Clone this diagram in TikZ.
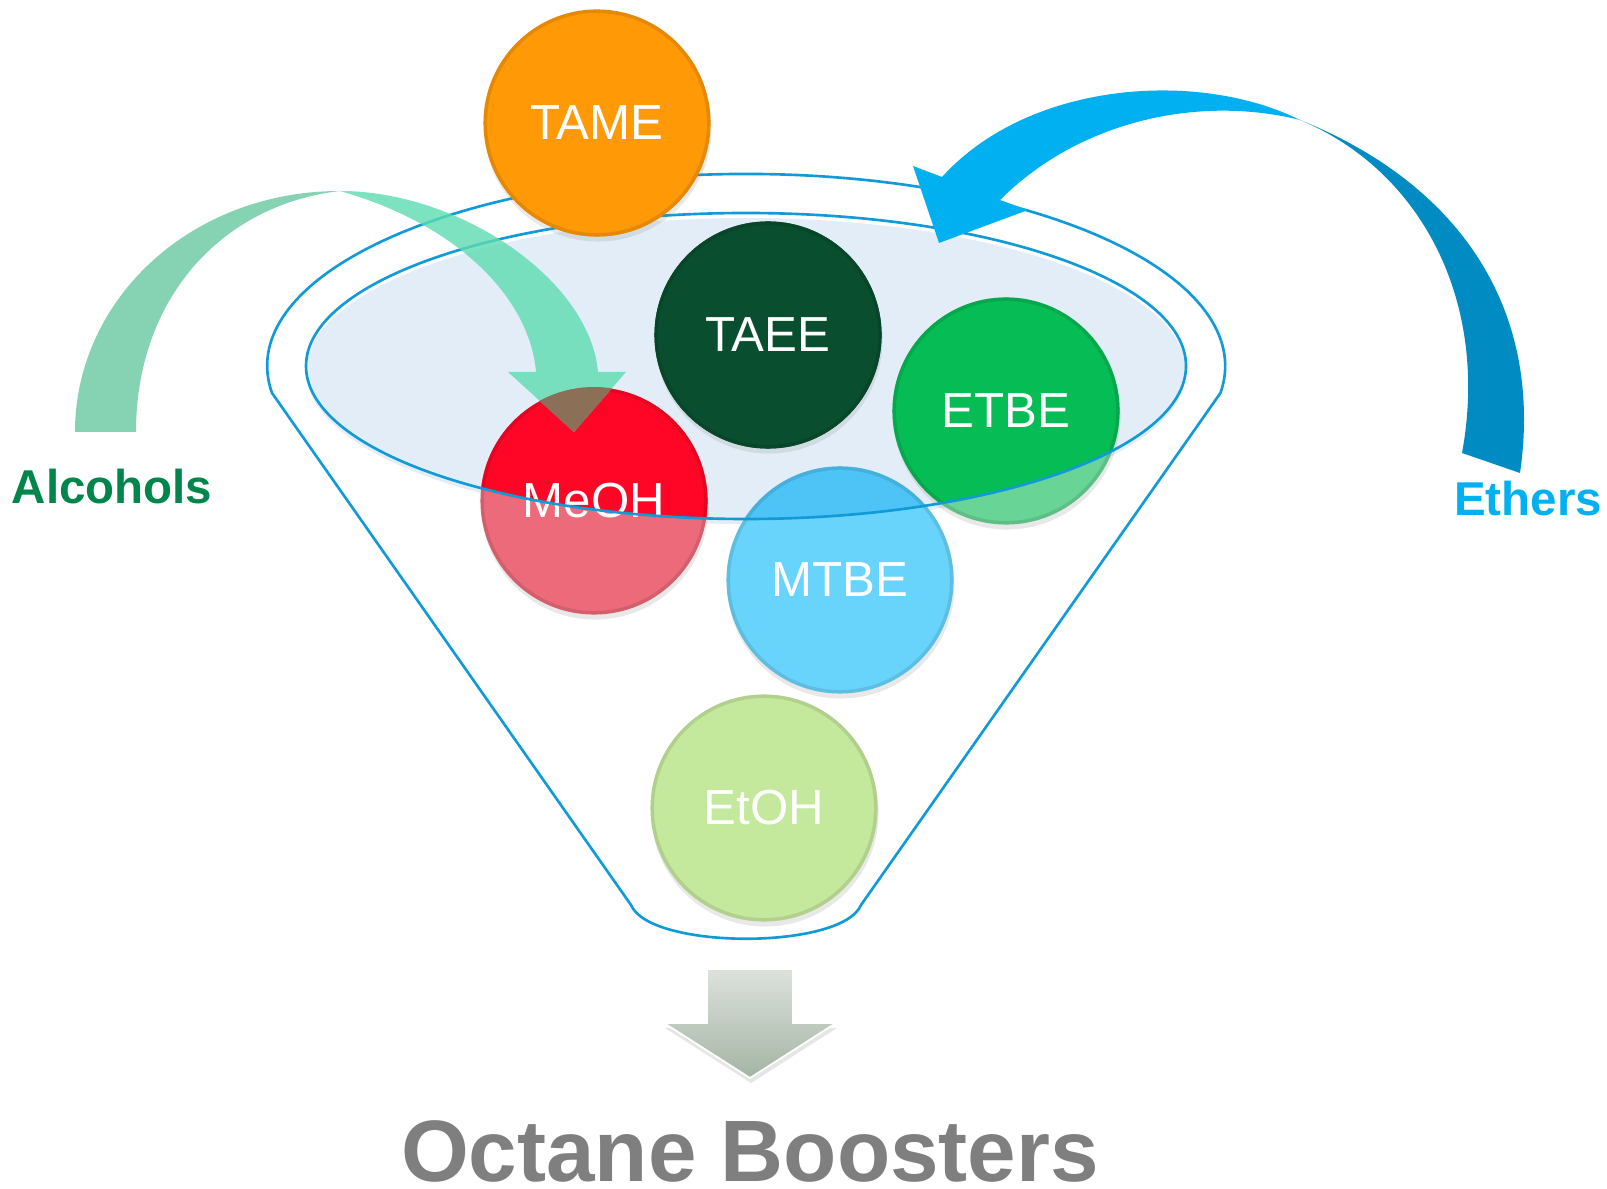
\documentclass[tikz,border=0pt]{standalone}
\usepackage{fontspec}
\setmainfont{Liberation Sans}
\usepackage{tikz}
\usetikzlibrary{shadows}
\definecolor{funnelblue}{RGB}{16,154,215}
\definecolor{rimfill}{RGB}{227,237,247}
\definecolor{tameorange}{RGB}{255,153,5}
\definecolor{taeegreen}{RGB}{9,78,46}
\definecolor{etbein}{RGB}{6,188,85}
\definecolor{etbeout}{RGB}{104,212,150}
\definecolor{meohin}{RGB}{255,6,38}
\definecolor{meohout}{RGB}{236,106,122}
\definecolor{mtbein}{RGB}{78,196,246}
\definecolor{mtbeout}{RGB}{104,212,251}
\definecolor{etohgreen}{RGB}{196,232,156}
\definecolor{alcback}{RGB}{134,211,180}
\definecolor{alcfront}{RGB}{92,219,176}
\definecolor{alcover}{RGB}{139,112,87}
\definecolor{ethback}{RGB}{0,140,194}
\definecolor{ethfront}{RGB}{0,176,240}
\definecolor{alcgreen}{RGB}{0,134,74}
\definecolor{boostgray}{RGB}{127,127,127}
\newcommand{\bubblefont}{\fontsize{14}{16}\selectfont}
\newcommand{\tagfont}{\bfseries\fontsize{13.5}{16}\selectfont}

\tikzset{
  ball/.style 2 args={circle, minimum size=2.27cm, inner sep=0pt, fill=#1, text=white, font=\bubblefont,
    drop shadow={shadow xshift=0.1mm, shadow yshift=-0.5mm, opacity=0.18},
    path picture={\fill[#2] (rim) ellipse[x radius=440, y radius=153];
      \draw[black, opacity=0.1, line width=2pt] (path picture bounding box.center) circle[radius=1.135cm];}},
  tag/.style={font=\tagfont, inner sep=0pt},
  funnelline/.style={funnelblue, line width=0.75pt}
}

\begin{document}
\begin{tikzpicture}[x=0.01cm, y=-0.01cm]
  \useasboundingbox (0,0) rectangle (1607,1189);
  \coordinate (rim) at (746,366);

  \fill[rimfill] (746,371) ellipse[x radius=440, y radius=153];

  \node[ball={meohout}{meohin}] (meoh) at (594,501) {MeOH};
  \node[ball={etbeout}{etbein}] (etbe) at (1006,411) {ETBE};
  \node[ball={mtbeout}{mtbein}] (mtbe) at (840,580) {MTBE};
  \node[ball={etohgreen}{etohgreen}] (etoh) at (764,808) {EtOH};
  \node[ball={taeegreen}{taeegreen}] (taee) at (768,335) {TAEE};

  \draw[funnelline] (rim) ellipse[x radius=440, y radius=153];
  \draw[funnelline] (272,393) arc[start angle=171.9, end angle=368.1, x radius=479, y radius=192]
    -- (861,905) .. controls (842,950) and (650,950) .. (631,905) -- cycle;

  \node[ball={tameorange}{tameorange}] (tame) at (597,123) {TAME};

  % alcohols
  \fill[alcback] (75,432) .. controls (75,300) and (190,191) .. (340,191)
    .. controls (220,205) and (136,300) .. (136,432) -- cycle;
  \fill[alcfront, opacity=0.8] (340,191) .. controls (460,191) and (590,280) .. (598,372)
    -- (626,372) -- (574,432) -- (508,372) -- (536,372)
    .. controls (530,300) and (460,225) .. (340,191) -- cycle;
  \begin{scope}
    \clip (meoh.center) circle[radius=114];
    \fill[alcover] (626,372) -- (574,432) -- (508,372) -- cycle;
  \end{scope}

  % ethers
  \fill[ethback] (1300,120) .. controls (1450,180) and (1545,300) .. (1520,473)
    -- (1462,453) .. controls (1490,300) and (1420,170) .. (1300,120) -- cycle;
  \fill[ethfront] (1300,120) .. controls (1200,70) and (1030,80) .. (942,177)
    -- (913,166) -- (939,243) -- (1028,210) -- (1000,200)
    .. controls (1080,120) and (1200,95) .. (1300,120) -- cycle;

  \path[top color=green!8!gray!25, bottom color=green!10!gray!65, draw=white, line width=0.5pt,
    drop shadow={shadow xshift=0.1mm, shadow yshift=-0.5mm, opacity=0.2}]
    (707,969) -- (793,969) -- (793,1023) -- (836,1023) -- (750,1078) -- (664,1023) -- (707,1023) -- cycle;

  \node[tag, text=alcgreen] (alc) at (112,487) {Alcohols};
  \node[tag, text=ethfront] (eth) at (1528,499) {Ethers};
  \node[font=\bfseries\fontsize{24.8}{28}\selectfont, text=boostgray, anchor=base, inner sep=0pt]
    (boost) at (750,1181) {Octane Boosters};
\end{tikzpicture}
\end{document}
